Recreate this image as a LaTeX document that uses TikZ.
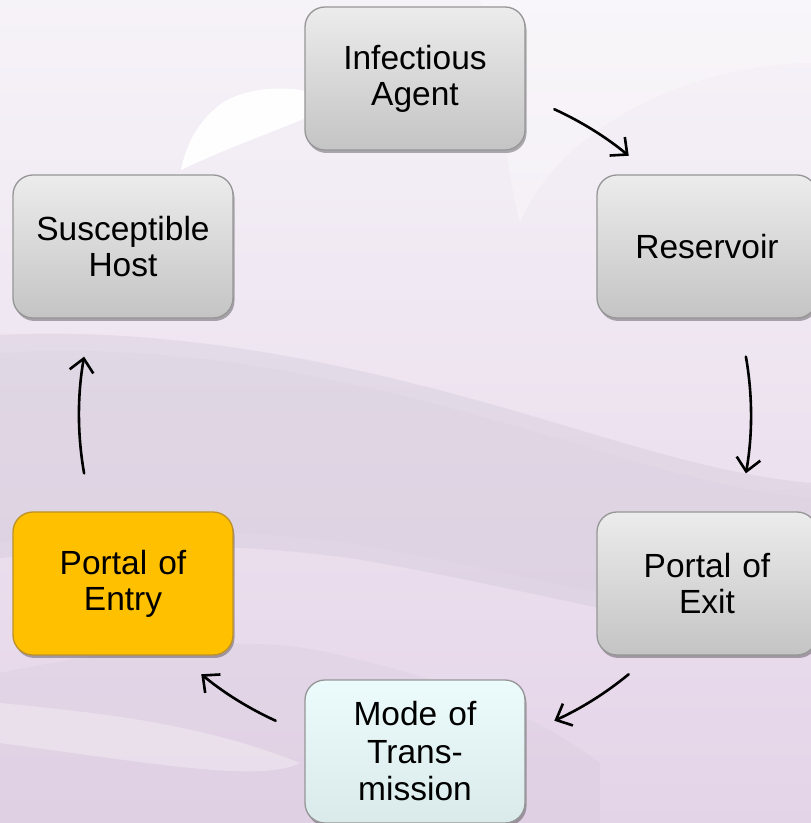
\documentclass[tikz,border=0pt]{standalone}
\usepackage{fontspec}
\setmainfont{Liberation Sans}
\usetikzlibrary{arrows.meta,shadows,calc}
\definecolor{bgtop}{RGB}{246,243,248}
\definecolor{bgbot}{RGB}{228,212,232}
\definecolor{rod}{RGB}{208,198,213}
\definecolor{boxtop}{RGB}{236,236,236}
\definecolor{boxbot}{RGB}{196,196,196}
\definecolor{boxline}{RGB}{150,150,150}
\definecolor{cyantop}{RGB}{236,251,251}
\definecolor{cyanbot}{RGB}{218,234,234}
\definecolor{amber}{RGB}{255,192,0}
\definecolor{amberline}{RGB}{190,145,40}
\begin{document}
\begin{tikzpicture}[x=1pt,y=1pt,
  box/.style={rounded corners=20pt, minimum width=220pt, minimum height=143pt,
    draw=boxline, line width=1.3pt, top color=boxtop, bottom color=boxbot,
    align=center, inner sep=0pt, text width=210pt,
    font=\fontsize{33.5}{36}\selectfont,
    drop shadow={shadow xshift=1.5pt, shadow yshift=-3pt, opacity=0.3, fill=black}},
  modebox/.style={box, top color=cyantop, bottom color=cyanbot,
    font=\fontsize{33.5}{37.5}\selectfont},
  entrybox/.style={box, top color=amber, bottom color=amber, draw=amberline},
  arr/.style={line width=2.6pt, line cap=round,
    -{Straight Barb[length=13pt,width=24pt]}}]
\useasboundingbox (0,0) rectangle (811,823);
\clip (0,0) rectangle (811,823);
% background
\shade[top color=bgtop, bottom color=bgbot] (0,0) rectangle (811,823);
\foreach \o in {0.12,0.12,0.12}{
\fill[rod, opacity=\o] (0,488) .. controls (150,495) and (300,470) .. (450,430)
  .. controls (600,390) and (700,350) .. (811,340) -- (811,175)
  .. controls (650,200) and (500,240) .. (350,265)
  .. controls (200,285) and (100,275) .. (0,265) -- cycle;}
\fill[rod, opacity=0.12] (0,470) .. controls (150,480) and (300,455) .. (450,415)
  .. controls (600,375) and (700,335) .. (811,325) -- (811,190)
  .. controls (650,215) and (500,255) .. (350,280)
  .. controls (200,300) and (100,290) .. (0,280) -- cycle;
\fill[rod, opacity=0.22] (0,150) .. controls (120,175) and (250,190) .. (330,170)
  .. controls (420,150) and (520,120) .. (600,60) -- (600,0) -- (0,0) -- cycle;
\fill[white, opacity=0.3] (0,120) .. controls (100,110) and (200,100) .. (300,60)
  .. controls (260,40) and (150,60) .. (0,80) -- cycle;
\fill[white, opacity=0.3] (520,600) .. controls (560,700) and (700,760) .. (811,760)
  -- (811,823) -- (480,823) .. controls (500,760) and (500,680) .. (520,600) -- cycle;
\fill[white, opacity=0.95] (181,653) .. controls (186,680) and (200,705) .. (225,722)
  .. controls (250,735) and (280,737) .. (306,732) -- (306,705)
  .. controls (270,690) and (220,672) .. (181,653) -- cycle;
% nodes
\node[box] (agent) at (415,744.5) {Infectious\\Agent};
\node[box] (reservoir) at (707,576.5) {Reservoir};
\node[box] (exit) at (707,239.5) {Portal of\\Exit};
\node[modebox] (mode) at (415,71.5) {Mode of\\Trans-\\mission};
\node[entrybox] (entry) at (123,239.5) {Portal of\\Entry};
\node[box] (host) at (123,576.5) {Susceptible\\Host};
% connectors: arcs of the cycle
\coordinate (O) at (415,408);
\coordinate (s1) at ($(O)+(65.5:336)$);
\coordinate (s2) at ($(O)+(10:336)$);
\coordinate (s3) at ($(O)+(-50.5:336)$);
\coordinate (s4) at ($(O)+(-114.5:336)$);
\coordinate (s5) at ($(O)+(-170:336)$);
\draw[arr] (s1) arc[start angle=65.5, end angle=50.5, radius=336];
\draw[arr] (s2) arc[start angle=10, end angle=-10, radius=336];
\draw[arr] (s3) arc[start angle=-50.5, end angle=-65.5, radius=336];
\draw[arr] (s4) arc[start angle=-114.5, end angle=-129.5, radius=336];
\draw[arr] (s5) arc[start angle=-170, end angle=-190, radius=336];
\end{tikzpicture}
\end{document}
